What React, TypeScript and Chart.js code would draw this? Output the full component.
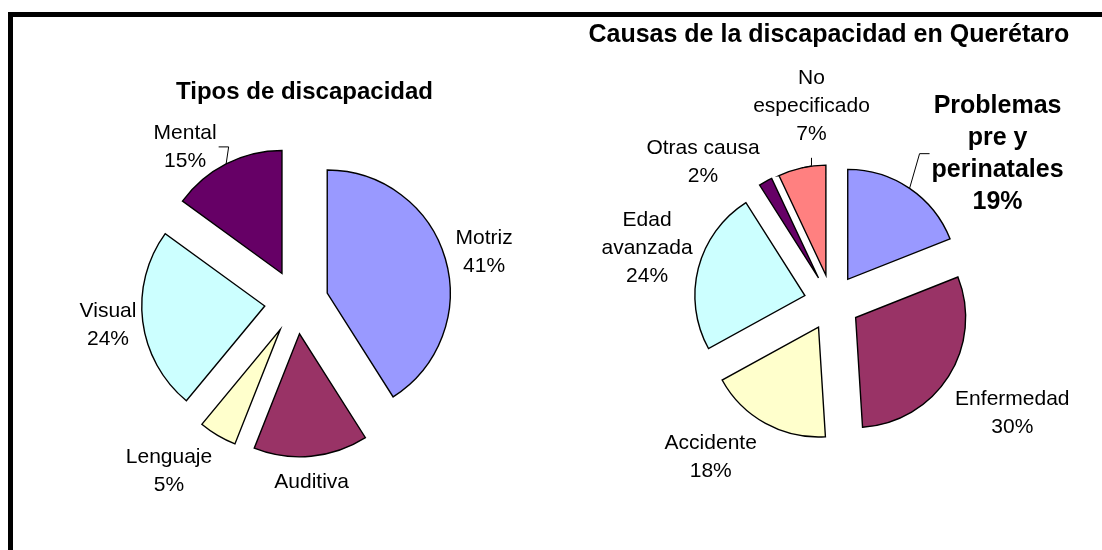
import React, { useEffect, useRef } from 'react';
import { Chart, registerables } from 'chart.js';

Chart.register(...registerables);

// ---------- DATA ----------
const tiposTitle = 'Tipos de discapacidad';
const tiposCategories = ['Motriz', 'Auditiva', 'Lenguaje', 'Visual', 'Mental'];
const tiposValues = [41, 15, 5, 24, 15];
const tiposColors = ['#9999FF', '#993366', '#FFFFCC', '#CCFFFF', '#660066'];

const causasTitle = 'Causas de la discapacidad en Querétaro';
const causasCategories = [
  'Problemas pre y perinatales',
  'Enfermedad',
  'Accidente',
  'Edad avanzada',
  'Otras causa',
  'No especificado',
];
const causasValues = [19, 30, 18, 24, 2, 7];
const causasColors = ['#9999FF', '#993366', '#FFFFCC', '#CCFFFF', '#660066', '#FF8080'];

// ---------- LAYOUT (positions / styles, not data) ----------
type LabelLayout = {
  dx: number;
  dy: number;
  hidePct?: boolean;
  bold?: boolean;
  size?: number;
  lh?: number;
  maxW?: number;
  leader?: 'side' | 'below';
};

const tiposLabelLayout: LabelLayout[] = [
  { dx: 38.7, dy: -6.3 },
  { dx: 0.6, dy: 25.6, hidePct: true },
  { dx: -48.6, dy: 36 },
  { dx: -34.7, dy: 3.4 },
  { dx: -41, dy: -17, leader: 'side' },
];

const causasLabelLayout: LabelLayout[] = [
  { dx: 88, dy: -34.7, bold: true, size: 25, lh: 32, maxW: 150, leader: 'side' },
  { dx: 63.8, dy: 37 },
  { dx: -54.8, dy: 34.1 },
  { dx: -51.3, dy: -19.6, maxW: 100 },
  { dx: -62.5, dy: -19.6 },
  { dx: 9.6, dy: -61.3, maxW: 120, leader: 'below' },
];

const FONT = '"Liberation Sans", Arial, Helvetica, sans-serif';
const W = 1102;
const H = 550;

type PieSpec = {
  key: string;
  title: string;
  titleSize: number;
  titleDx: number;
  titleDy: number;
  categories: string[];
  values: number[];
  colors: string[];
  labels: LabelLayout[];
  cx: number;
  cy: number;
  radius: number;
  explode: number;
};

const pies: PieSpec[] = [
  {
    key: 'tipos',
    title: tiposTitle,
    titleSize: 24,
    titleDx: 8,
    titleDy: -209.6,
    categories: tiposCategories,
    values: tiposValues,
    colors: tiposColors,
    labels: tiposLabelLayout,
    cx: 296.5,
    cy: 302,
    radius: 123,
    explode: 32,
  },
  {
    key: 'causas',
    title: causasTitle,
    titleSize: 25,
    titleDx: -3.2,
    titleDy: -266.9,
    categories: causasCategories,
    values: causasValues,
    colors: causasColors,
    labels: causasLabelLayout,
    cx: 832,
    cy: 302.5,
    radius: 110,
    explode: 28,
  },
];

function wrapText(ctx: CanvasRenderingContext2D, text: string, maxW: number): string[] {
  const words = text.split(' ');
  const lines: string[] = [];
  let cur = '';
  for (const w of words) {
    const test = cur ? cur + ' ' + w : w;
    if (cur && ctx.measureText(test).width > maxW) {
      lines.push(cur);
      cur = w;
    } else {
      cur = test;
    }
  }
  if (cur) lines.push(cur);
  return lines;
}

function makeExplodePlugin(distance: number) {
  return {
    id: 'explodeSlices',
    afterDatasetUpdate(_chart: any, args: any) {
      args.meta.data.forEach((arc: any) => {
        const mid = (arc.startAngle + arc.endAngle) / 2;
        arc.x += Math.cos(mid) * distance;
        arc.y += Math.sin(mid) * distance;
      });
    },
  };
}

function makeLabelPlugin(spec: PieSpec) {
  return {
    id: 'pieLabels',
    afterDatasetsDraw(chart: any) {
      const ctx: CanvasRenderingContext2D = chart.ctx;
      const area = chart.chartArea;
      const ccx = (area.left + area.right) / 2;
      const ccy = (area.top + area.bottom) / 2;
      const meta = chart.getDatasetMeta(0);
      const values = chart.data.datasets[0].data as number[];
      const names = chart.data.labels as string[];
      const total = values.reduce((a, b) => a + b, 0);

      ctx.save();
      ctx.fillStyle = '#000';
      ctx.strokeStyle = '#000';
      ctx.lineWidth = 1;
      ctx.textAlign = 'center';
      ctx.textBaseline = 'middle';

      // title
      ctx.font = `bold ${spec.titleSize}px ${FONT}`;
      ctx.fillText(spec.title, ccx + spec.titleDx, ccy + spec.titleDy);

      meta.data.forEach((arc: any, i: number) => {
        const lay = spec.labels[i];
        const mid = (arc.startAngle + arc.endAngle) / 2;
        const r = arc.outerRadius;
        const ox = arc.x + Math.cos(mid) * r;
        const oy = arc.y + Math.sin(mid) * r;
        const lx = ox + lay.dx;
        const ly = oy + lay.dy;
        const size = lay.size ?? 21;
        const lh = lay.lh ?? 28;
        ctx.font = `${lay.bold ? 'bold ' : ''}${size}px ${FONT}`;
        const lines = wrapText(ctx, names[i], lay.maxW ?? 130);
        if (!lay.hidePct) lines.push(Math.round((values[i] / total) * 100) + '%');
        const n = lines.length;
        let maxLineW = 0;
        lines.forEach((t, k) => {
          maxLineW = Math.max(maxLineW, ctx.measureText(t).width);
          ctx.fillText(t, lx, ly + (k - (n - 1) / 2) * lh);
        });

        if (lay.leader === 'side') {
          const right = ox > lx;
          const x0 = right ? lx + maxLineW / 2 + 2 : lx - maxLineW / 2 - 2;
          const x1 = right ? x0 + 10 : x0 - 10;
          ctx.beginPath();
          ctx.moveTo(x0, ly);
          ctx.lineTo(x1, ly);
          ctx.lineTo(ox, oy);
          ctx.stroke();
        } else if (lay.leader === 'below') {
          ctx.beginPath();
          ctx.moveTo(lx, oy - 10);
          ctx.lineTo(lx, oy - 2);
          ctx.lineTo(ox, oy);
          ctx.stroke();
        }
      });
      ctx.restore();
    },
  };
}

function PieCanvas({ spec }: { spec: PieSpec }) {
  const ref = useRef<HTMLCanvasElement>(null);
  useEffect(() => {
    const half = 150;
    const chart = new Chart(ref.current as HTMLCanvasElement, {
      type: 'pie',
      data: {
        labels: spec.categories,
        datasets: [
          {
            data: spec.values,
            backgroundColor: spec.colors,
            borderColor: '#000',
            borderWidth: 1.4,
            borderJoinStyle: 'miter',
            radius: spec.radius,
          } as any,
        ],
      },
      options: {
        responsive: false,
        animation: false,
        events: [],
        devicePixelRatio: 1,
        layout: {
          padding: {
            left: spec.cx - half,
            right: W - (spec.cx + half),
            top: spec.cy - half,
            bottom: H - (spec.cy + half),
          },
        },
        plugins: {
          legend: { display: false },
          tooltip: { enabled: false },
          title: { display: false },
        },
      },
      plugins: [makeExplodePlugin(spec.explode), makeLabelPlugin(spec)],
    });
    return () => chart.destroy();
  }, [spec]);
  return (
    <canvas
      ref={ref}
      width={W}
      height={H}
      style={{ position: 'absolute', left: 0, top: 0, width: W, height: H }}
    />
  );
}

export default function App() {
  return (
    <div
      style={{
        position: 'fixed',
        left: 0,
        top: 0,
        width: W,
        height: H,
        overflow: 'hidden',
        background: '#fff',
      }}
    >
      <div
        style={{
          position: 'absolute',
          left: 8,
          top: 12,
          width: 1400,
          height: 900,
          border: '5px solid #000',
          boxSizing: 'border-box',
        }}
      />
      {pies.map((p) => (
        <PieCanvas key={p.key} spec={p} />
      ))}
    </div>
  );
}
